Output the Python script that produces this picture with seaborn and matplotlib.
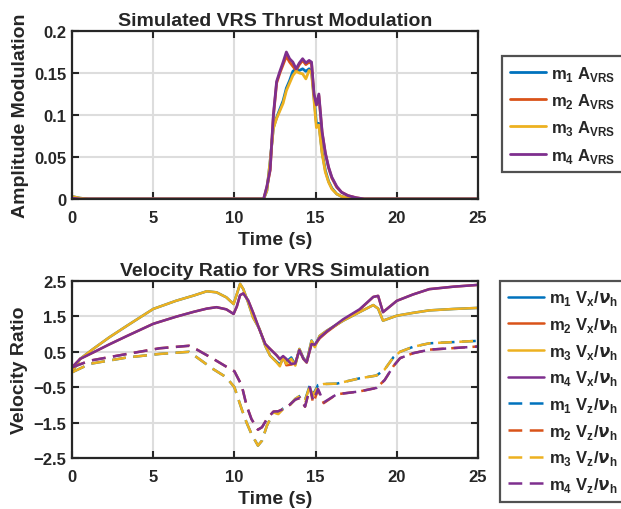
import numpy as np
import pandas as pd
import matplotlib
matplotlib.use("Agg")
import matplotlib.pyplot as plt
import seaborn as sns

# ---- amplitude modulation (top panel) ----
t_amp = [0, 0.5, 1.0, 11.8, 12.0, 12.2, 12.4, 12.6, 12.8, 13.0, 13.2, 13.4, 13.6, 13.8,
         14.0, 14.2, 14.4, 14.6, 14.75, 14.9, 15.05, 15.2, 15.4, 15.6, 15.8, 16.0, 16.3,
         16.6, 17.0, 17.5, 18.0, 25.0]
amp_m1 = [0.003, 0.001, 0, 0, 0.010, 0.045, 0.085, 0.097, 0.107, 0.117, 0.132, 0.141, 0.152, 0.155,
          0.153, 0.155, 0.152, 0.155, 0.152, 0.122, 0.090, 0.090, 0.056, 0.034, 0.021, 0.013, 0.006,
          0.003, 0.001, 0, 0, 0]
amp_m2 = [0.001, 0, 0, 0, 0.014, 0.034, 0.098, 0.138, 0.150, 0.160, 0.170, 0.163, 0.158, 0.153,
          0.160, 0.165, 0.160, 0.163, 0.161, 0.124, 0.112, 0.123, 0.079, 0.054, 0.037, 0.025, 0.014,
          0.008, 0.004, 0.0015, 0, 0]
amp_m3 = [0.003, 0.001, 0, 0, 0.010, 0.045, 0.084, 0.096, 0.105, 0.114, 0.129, 0.138, 0.147, 0.152,
          0.150, 0.149, 0.143, 0.153, 0.150, 0.118, 0.085, 0.088, 0.054, 0.032, 0.020, 0.012, 0.006,
          0.003, 0.001, 0, 0, 0]
amp_m4 = [0.001, 0, 0, 0, 0.015, 0.035, 0.100, 0.140, 0.152, 0.163, 0.175, 0.167, 0.163, 0.155,
          0.162, 0.167, 0.162, 0.165, 0.163, 0.125, 0.112, 0.125, 0.080, 0.055, 0.038, 0.026, 0.015,
          0.008, 0.004, 0.0015, 0, 0]

# ---- velocity ratios (bottom panel) ----
t_vx = [0, 0.5, 1.3, 2.3, 3.4, 5.0, 6.4, 7.5, 8.3, 8.9, 9.5, 9.95, 10.15, 10.35, 10.55, 10.85,
        11.15, 11.55, 11.9, 12.2, 12.6, 12.8, 13.0, 13.2, 13.5, 13.75, 14.0, 14.25, 14.45,
        14.75, 14.95, 15.25, 15.7, 16.7, 17.7, 18.55, 18.85, 19.15, 20.0, 21.0, 22.0, 23.5, 25.0]
vx_m1 = [-0.08, 0.30, 0.58, 0.91, 1.24, 1.71, 1.94, 2.09, 2.21, 2.18, 2.04, 1.85, 2.13, 2.42, 2.27, 1.89,
         1.47, 1.14, 0.67, 0.39, 0.22, 0.14, 0.30, 0.22, 0.34, 0.14, 0.58, 0.32, 0.22, 0.82,
         0.66, 0.95, 1.10, 1.38, 1.62, 1.82, 1.72, 1.38, 1.52, 1.60, 1.67, 1.71, 1.74]
vx_m2 = [0.06, 0.30, 0.48, 0.71, 0.95, 1.29, 1.49, 1.63, 1.72, 1.76, 1.70, 1.57, 1.78, 2.10, 2.15, 1.95,
         1.61, 1.12, 0.72, 0.58, 0.40, 0.28, 0.36, 0.12, 0.14, 0.18, 0.55, 0.30, 0.20, 0.72,
         0.68, 0.88, 1.06, 1.40, 1.68, 2.05, 2.08, 1.62, 1.94, 2.12, 2.27, 2.34, 2.39]
vx_m3 = [-0.08, 0.30, 0.58, 0.91, 1.24, 1.71, 1.94, 2.09, 2.21, 2.18, 2.04, 1.85, 2.13, 2.42, 2.27, 1.89,
         1.47, 1.14, 0.67, 0.39, 0.20, 0.09, 0.34, 0.16, 0.30, 0.11, 0.58, 0.30, 0.20, 0.81,
         0.63, 0.95, 1.10, 1.38, 1.62, 1.82, 1.72, 1.38, 1.52, 1.60, 1.67, 1.71, 1.74]
vx_m4 = [0.06, 0.30, 0.48, 0.71, 0.95, 1.29, 1.49, 1.63, 1.72, 1.76, 1.70, 1.57, 1.78, 2.10, 2.15, 1.95,
         1.61, 1.12, 0.72, 0.58, 0.40, 0.30, 0.38, 0.30, 0.16, 0.17, 0.55, 0.30, 0.20, 0.72,
         0.70, 0.90, 1.08, 1.42, 1.70, 2.05, 2.08, 1.62, 1.94, 2.12, 2.27, 2.34, 2.39]

t_vz = [0, 1.1, 3.4, 5.4, 7.2, 7.7, 8.7, 9.5, 10.0, 10.45, 10.75, 11.05, 11.45, 11.7, 12.0, 12.4,
        12.7, 13.0, 13.4, 13.75, 14.05, 14.35, 14.65, 14.85, 15.15, 15.5, 16.3, 17.7, 18.75,
        19.25, 19.8, 20.2, 21.0, 22.0, 25.0]
vz_m1 = [-0.08, 0.16, 0.34, 0.44, 0.50, 0.34, 0.01, -0.22, -0.50, -1.12, -1.50, -1.82, -2.15, -2.01,
         -1.59, -1.21, -1.24, -1.10, -1.00, -0.83, -0.74, -0.86, -0.44, -0.70, -0.44, -0.41, -0.40,
         -0.25, -0.17, 0.00, 0.35, 0.50, 0.64, 0.74, 0.81]
vz_m2 = [0.06, 0.25, 0.44, 0.60, 0.67, 0.56, 0.30, 0.08, -0.05, -0.45, -1.02, -1.40, -1.70, -1.63,
         -1.40, -1.19, -1.18, -1.12, -1.00, -0.85, -0.80, -1.05, -0.52, -0.95, -0.58, -0.95, -0.70,
         -0.62, -0.52, -0.30, 0.10, 0.32, 0.46, 0.56, 0.65]
vz_m3 = [-0.08, 0.16, 0.34, 0.44, 0.50, 0.34, 0.01, -0.22, -0.50, -1.12, -1.50, -1.82, -2.15, -2.01,
         -1.59, -1.21, -1.26, -1.12, -1.02, -0.83, -0.74, -0.88, -0.46, -0.74, -0.46, -0.41, -0.40,
         -0.25, -0.17, 0.00, 0.35, 0.50, 0.64, 0.74, 0.81]
vz_m4 = [0.06, 0.25, 0.44, 0.60, 0.67, 0.56, 0.30, 0.08, -0.05, -0.45, -1.02, -1.40, -1.70, -1.63,
         -1.40, -1.19, -1.18, -1.12, -1.00, -0.85, -0.80, -1.05, -0.50, -0.88, -0.55, -0.93, -0.70,
         -0.62, -0.52, -0.30, 0.10, 0.32, 0.46, 0.56, 0.65]

colors = ["#0072BD", "#D95319", "#EDB120", "#7E2F8E"]
amp_labels = [r"m$_\mathrm{%d}$ A$_\mathrm{VRS}$" % i for i in range(1, 5)]
vx_labels = [r"m$_\mathrm{%d}$ V$_\mathrm{x}$/$\nu_\mathrm{h}$" % i for i in range(1, 5)]
vz_labels = [r"m$_\mathrm{%d}$ V$_\mathrm{z}$/$\nu_\mathrm{h}$" % i for i in range(1, 5)]

sns.set_theme(style="whitegrid")
plt.rcParams["font.family"] = ["Liberation Sans", "DejaVu Sans"]
plt.rcParams["font.weight"] = "bold"
plt.rcParams["axes.labelweight"] = "bold"
plt.rcParams["axes.titleweight"] = "bold"
plt.rcParams["mathtext.fontset"] = "custom"
plt.rcParams["mathtext.rm"] = "Liberation Sans:bold"
plt.rcParams["mathtext.it"] = "DejaVu Sans:italic:bold"
plt.rcParams["mathtext.bf"] = "Liberation Sans:bold"

ink = "#262626"


def style_axes(ax):
    ax.set_xlim(0, 25)
    ax.set_xticks([0, 5, 10, 15, 20, 25])
    ax.grid(True, color="#dddddd", linewidth=1.5)
    for sp in ax.spines.values():
        sp.set_visible(True)
        sp.set_color(ink)
        sp.set_linewidth(1.6)
    ax.tick_params(direction="in", length=5, width=1.5, top=True, right=True,
                   bottom=True, left=True, labelsize=12, colors=ink)
    ax.tick_params(axis="x", pad=8)
    ax.tick_params(axis="y", pad=4)
    ax.set_xlabel("Time (s)", fontsize=14, color=ink, labelpad=4)


fig = plt.figure(figsize=(6.21, 5.10), dpi=100)
ax1 = fig.add_axes([72 / 621, 1 - 200 / 510, 406 / 621, 168 / 510])
ax2 = fig.add_axes([72 / 621, 51 / 510, 406 / 621, 177 / 510])

# top panel
for vals, c, lab in zip([amp_m1, amp_m2, amp_m3, amp_m4], colors, amp_labels):
    sns.lineplot(x=t_amp, y=vals, ax=ax1, color=c, linewidth=2.0, label=lab)
style_axes(ax1)
ax1.set_ylim(0, 0.2)
ax1.set_yticks([0, 0.05, 0.1, 0.15, 0.2])
ax1.set_yticklabels(["0", "0.05", "0.1", "0.15", "0.2"])
ax1.set_ylabel("Amplitude Modulation", fontsize=14, color=ink)
ax1.set_title("Simulated VRS Thrust Modulation", fontsize=14, color=ink, pad=4)

# bottom panel
for vals, c, lab in zip([vx_m1, vx_m2, vx_m3, vx_m4], colors, vx_labels):
    sns.lineplot(x=t_vx, y=vals, ax=ax2, color=c, linewidth=1.8, label=lab)
for vals, c, lab in zip([vz_m1, vz_m2, vz_m3, vz_m4], colors, vz_labels):
    sns.lineplot(x=t_vz, y=vals, ax=ax2, color=c, linewidth=1.8, label=lab,
                 linestyle=(0, (5.5, 3)))
style_axes(ax2)
ax2.set_ylim(-2.5, 2.5)
ax2.set_yticks([-2.5, -1.5, -0.5, 0.5, 1.5, 2.5])
ax2.set_ylabel("Velocity Ratio", fontsize=14, color=ink)
ax2.set_title("Velocity Ratio for VRS Simulation", fontsize=14, color=ink, pad=4)

for ax, anchor, sp in [(ax1, (502 / 621, 1 - 57 / 510), 0.5), (ax2, (500 / 621, 1 - 282 / 510), 0.46)]:
    leg = ax.legend(loc="upper left", bbox_to_anchor=anchor, bbox_transform=fig.transFigure,
                    borderaxespad=0, frameon=True, fancybox=False, edgecolor=ink,
                    handlelength=2.2, fontsize=12, labelspacing=sp, borderpad=0.45,
                    handletextpad=0.3)
    leg.get_frame().set_linewidth(1.6)
    for txt in leg.get_texts():
        txt.set_color(ink)

fig.savefig("out.png", dpi=100, facecolor="white")
